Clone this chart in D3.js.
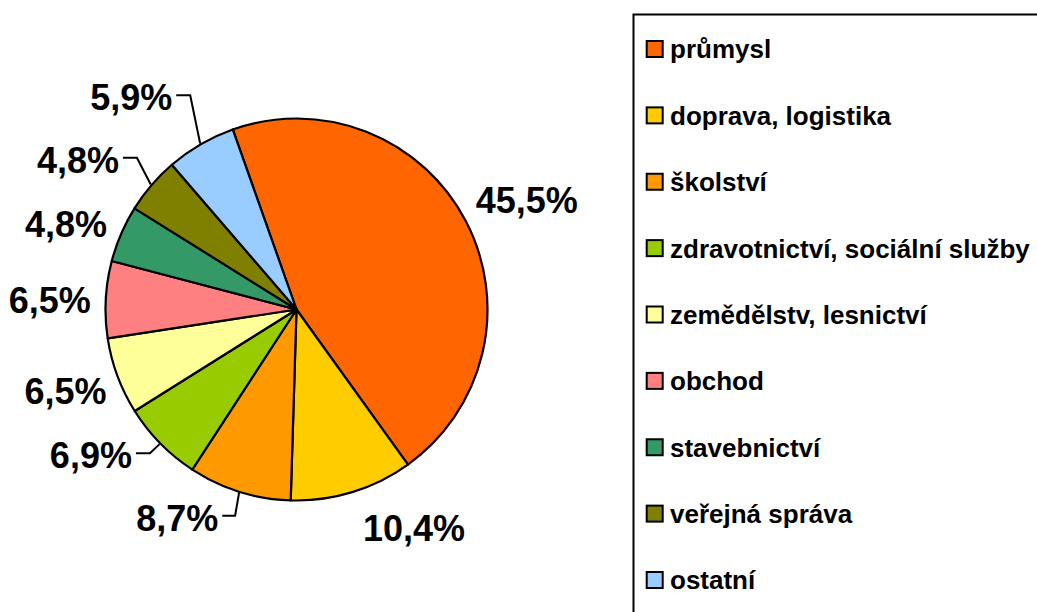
<!DOCTYPE html>
<html lang='cs'>
  <head>
    <meta charset='utf-8'>
    <title>Pie chart</title>
    <script src='https://d3js.org/d3.v7.min.js'></script>
    <style>
      html, body { margin: 0; padding: 0; background: #fff; }
      svg { display: block; font-family: 'Liberation Sans', Arial, sans-serif; font-weight: bold; }
    </style>
  </head>
  <body>
    <div class='vis'></div>
    <script>
      // data
      const categories = ['průmysl', 'doprava, logistika', 'školství', 'zdravotnictví, sociální služby',
        'zemědělstv, lesnictví', 'obchod', 'stavebnictví', 'veřejná správa', 'ostatní'];
      const shares = [45.5, 10.4, 8.7, 6.9, 6.5, 6.5, 4.8, 4.8, 5.9];
      const colors = ['#FF6600', '#FFCC00', '#FF9900', '#99CC00', '#FFFF99', '#FF8080', '#339966', '#808000', '#99CCFF'];

      // label placement (angle shift from slice middle in degrees, distance from centre, leader line)
      const labelShift = [2.2, -11.3, 12.4, 9.2, 1, -0.8, -2.9, -6.2, -7.8];
      const labelDist = [255, 248, 240, 252, 245, 247, 246, 265, 269];
      const labelLeader = [false, false, true, true, false, false, false, true, true];

      const width = 1037, height = 612;
      const cx = 296.5, cy = 309.5, radius = 191;
      const rad = Math.PI / 180;
      const start = -19.5 * rad;

      const svg = d3.select('.vis').append('svg')
        .attr('width', width)
        .attr('height', height);

      const pie = d3.pie().sort(null).value((d) => d)
        .startAngle(start).endAngle(start + 2 * Math.PI);
      const arcs = pie(shares);
      const arc = d3.arc().innerRadius(0).outerRadius(radius);

      const g = svg.append('g').attr('transform', 'translate(' + cx + ',' + cy + ')');

      g.selectAll('path.slice')
        .data(arcs).enter()
        .append('path')
          .attr('class', 'slice')
          .attr('d', arc)
          .attr('fill', (d, i) => colors[i])
          .attr('stroke', '#000')
          .attr('stroke-width', 2.2)
          .attr('stroke-linejoin', 'round');

      const fmt = (v) => v.toFixed(1).replace('.', ',') + '%';
      const polar = (a, r) => [Math.sin(a) * r, -Math.cos(a) * r];

      // percent labels
      arcs.forEach((d, i) => {
        const mid = (d.startAngle + d.endAngle) / 2;
        const p = polar(mid + labelShift[i] * rad, labelDist[i]);
        const t = g.append('text')
          .attr('x', p[0])
          .attr('y', p[1])
          .attr('dy', '0.36em')
          .attr('text-anchor', 'middle')
          .style('font-size', '36px')
          .text(fmt(shares[i]));

        if (labelLeader[i]) {
          const box = t.node().getBBox();
          const edge = polar(mid, radius + 1);
          const lx = box.x + box.width + 4;
          const ly = p[1] - 2;
          const kx = Math.min(lx + 14, edge[0] - 4);
          g.append('path')
            .attr('d', 'M' + lx + ',' + ly + 'H' + kx + 'L' + edge[0] + ',' + edge[1])
            .attr('fill', 'none')
            .attr('stroke', '#000')
            .attr('stroke-width', 2);
        }
      });

      // legend
      const legend = svg.append('g');
      legend.append('rect')
        .attr('x', 633.5)
        .attr('y', 14.5)
        .attr('width', 500)
        .attr('height', 700)
        .attr('fill', '#fff')
        .attr('stroke', '#000')
        .attr('stroke-width', 2);

      const rowY = d3.scalePoint().domain(categories).range([49, 580]);

      const rows = legend.selectAll('g.row')
        .data(categories).enter()
        .append('g')
          .attr('class', 'row')
          .attr('transform', (d) => 'translate(0,' + rowY(d) + ')');

      rows.append('rect')
        .attr('x', 646.7)
        .attr('y', -8)
        .attr('width', 16)
        .attr('height', 16)
        .attr('fill', (d, i) => colors[i])
        .attr('stroke', '#000')
        .attr('stroke-width', 2);

      rows.append('text')
        .attr('x', 670)
        .attr('y', 0)
        .attr('dy', '0.36em')
        .style('font-size', '26px')
        .text((d) => d);
    </script>
  </body>
</html>
